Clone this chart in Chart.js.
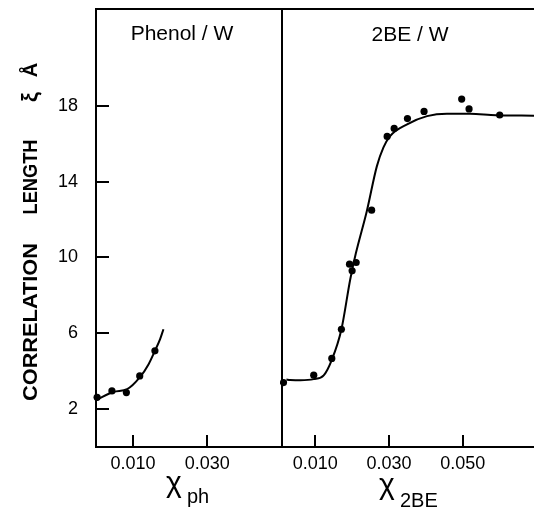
<!DOCTYPE html>
<html>
<head>
<meta charset="utf-8">
<script src="https://cdn.jsdelivr.net/npm/chart.js@4"></script>
<style>
  body { margin: 0; background: #fff; }
  #wrap { position: relative; width: 534px; height: 511px; overflow: hidden; background: #fff; }
  canvas { position: absolute; top: 0; }
  #left { left: 0; }
  #right { left: 280px; }
</style>
</head>
<body>
<div id="wrap">
  <canvas id="left" width="284" height="511"></canvas>
  <canvas id="right" width="254" height="511"></canvas>
</div>
<script>
// Phenol / W : measured points and drawn fit curve
const phenolX = [0.0003, 0.0043, 0.0082, 0.0118, 0.0159];
const phenolY = [2.62, 2.96, 2.87, 3.75, 5.07];
const phenolFitX = [0, 0.0048, 0.0084, 0.0118, 0.0142, 0.0159, 0.0173, 0.0182];
const phenolFitY = [2.47, 2.91, 3.05, 3.67, 4.37, 5.07, 5.69, 6.21];

// 2BE / W
const beX = [0.0014, 0.0096, 0.0145, 0.0171, 0.0193, 0.0200, 0.0211, 0.0253, 0.0295, 0.0314, 0.0350, 0.0395, 0.0497, 0.0517, 0.0600];
const beY = [3.40, 3.79, 4.67, 6.21, 9.64, 9.29, 9.73, 12.49, 16.38, 16.80, 17.32, 17.70, 18.35, 17.83, 17.51];
const beFitX = [0.0022, 0.0032, 0.0060, 0.0096, 0.0123, 0.0145, 0.0171, 0.0195, 0.0210, 0.0240, 0.0267, 0.0285, 0.0303, 0.0349, 0.0403, 0.0457, 0.0520, 0.0590, 0.0693];
const beFitY = [3.56, 3.54, 3.52, 3.58, 3.78, 4.60, 6.20, 8.85, 10.2, 12.45, 14.8, 15.8, 16.4, 17.02, 17.45, 17.58, 17.57, 17.50, 17.47];

const yTicks = [2, 6, 10, 14, 18];
const phenolTicks = [0.010, 0.030];
const beTicks = [0.010, 0.030, 0.050];

const FONT = "'Liberation Sans', Arial, sans-serif";

function pts(xs, ys) { return xs.map((x, i) => ({ x: x, y: ys[i] })); }

// frame lines + inward tick marks (one plugin per chart, so the tick lists stay plain arrays)
function framePlugin(xValues, yValues) {
  return {
    id: 'frame',
    afterDraw(chart) {
      const { ctx, chartArea: a } = chart;
      const xs = chart.scales.x, ys = chart.scales.y;
      ctx.save();
      ctx.fillStyle = '#000';
      ctx.fillRect(a.left - 1, a.top - 1, a.right - a.left + 1, 2);
      ctx.fillRect(a.left - 1, a.bottom - 1, a.right - a.left + 1, 2);
      ctx.fillRect(a.left - 1, a.top - 1, 2, a.bottom - a.top + 1);
      xValues.forEach(v => {
        const px = Math.round(xs.getPixelForValue(v));
        ctx.fillRect(px - 1, a.bottom - 12, 2, 12);
      });
      yValues.forEach(v => {
        const py = Math.round(ys.getPixelForValue(v));
        ctx.fillRect(a.left, py - 1, 13, 2);
      });
      ctx.restore();
    }
  };
}

// free text: titles, axis names
const textPlugin = {
  id: 'notes',
  afterDraw(chart, args, opts) {
    const ctx = chart.ctx;
    (opts.items || []).forEach(it => {
      ctx.save();
      ctx.fillStyle = '#000';
      ctx.font = it.font;
      ctx.textAlign = it.align || 'left';
      ctx.textBaseline = 'alphabetic';
      ctx.translate(it.x, it.y);
      if (it.rotate) ctx.rotate(-Math.PI / 2);
      if (it.fit) {
        const w = ctx.measureText(it.text).width;
        ctx.scale(it.fit / w, 1);
      }
      ctx.fillText(it.text, 0, 0);
      ctx.restore();
    });
  }
};

function makeChart(id, cfg) {
  return new Chart(document.getElementById(id), {
    type: 'scatter',
    data: {
      datasets: [
        { data: pts(cfg.fitX, cfg.fitY), showLine: true, borderColor: '#000', borderWidth: 2,
          pointRadius: 0, cubicInterpolationMode: 'monotone', order: 2 },
        { data: pts(cfg.ptX, cfg.ptY), showLine: false, backgroundColor: '#000', borderWidth: 0,
          pointRadius: 3.6, clip: false, order: 1 }
      ]
    },
    options: {
      responsive: false,
      animation: false,
      layout: { padding: cfg.padding, autoPadding: false },
      scales: {
        x: {
          type: 'linear', min: cfg.xMin, max: cfg.xMax,
          grid: { display: false, drawTicks: false },
          border: { display: false },
          afterBuildTicks: s => { s.ticks = cfg.xTicks.map(v => ({ value: v })); },
          afterFit: s => { s.height = 64; s.paddingLeft = 0; s.paddingRight = 0; },
          ticks: {
            color: '#000', padding: 6, maxRotation: 0, autoSkip: false,
            font: { family: FONT, size: 18 },
            callback: v => v.toFixed(3)
          }
        },
        y: {
          display: cfg.showY, min: 0, max: 23.1,
          grid: { display: false, drawTicks: false },
          border: { display: false },
          afterBuildTicks: s => { s.ticks = yTicks.map(v => ({ value: v })); },
          afterFit: s => { s.width = cfg.showY ? 96 : 0; s.paddingTop = 0; s.paddingBottom = 0; },
          ticks: {
            color: '#000', padding: 18,
            font: { family: FONT, size: 18 }
          }
        }
      },
      plugins: {
        legend: { display: false },
        tooltip: { enabled: false },
        notes: { items: cfg.notes }
      }
    },
    plugins: [framePlugin(cfg.xTicks, cfg.showY ? yTicks : []), textPlugin]
  });
}

makeChart('left', {
  ptX: phenolX, ptY: phenolY, fitX: phenolFitX, fitY: phenolFitY,
  xMin: 0, xMax: 0.0502, xTicks: phenolTicks, showY: true,
  padding: { top: 9, right: 2, left: 0, bottom: 0 },
  notes: [
    { text: 'Phenol / W', x: 182, y: 40, font: `21px ${FONT}`, align: 'center' },
    { text: 'CORRELATION', x: 37, y: 322, font: `bold 20px ${FONT}`, align: 'center', rotate: true, fit: 158 },
    { text: 'LENGTH', x: 37, y: 177, font: `bold 20px ${FONT}`, align: 'center', rotate: true, fit: 75 },
    { text: 'ξ', x: 37, y: 97, font: `bold 22px ${FONT}`, align: 'center', rotate: true },
    { text: 'Å', x: 37, y: 70, font: `bold 20px ${FONT}`, align: 'center', rotate: true },
    { text: 'χ', x: 166, y: 492, font: `30px ${FONT}` },
    { text: 'ph', x: 187, y: 503, font: `20px ${FONT}` }
  ]
});

makeChart('right', {
  ptX: beX, ptY: beY, fitX: beFitX, fitY: beFitY,
  xMin: 0.001, xMax: 0.0693, xTicks: beTicks, showY: false,
  padding: { top: 9, right: 0, left: 2, bottom: 0 },
  notes: [
    { text: '2BE / W', x: 130, y: 41, font: `21px ${FONT}`, align: 'center' },
    { text: 'χ', x: 99, y: 494, font: `30px ${FONT}` },
    { text: '2BE', x: 120, y: 507, font: `20px ${FONT}` }
  ]
});
</script>
</body>
</html>
